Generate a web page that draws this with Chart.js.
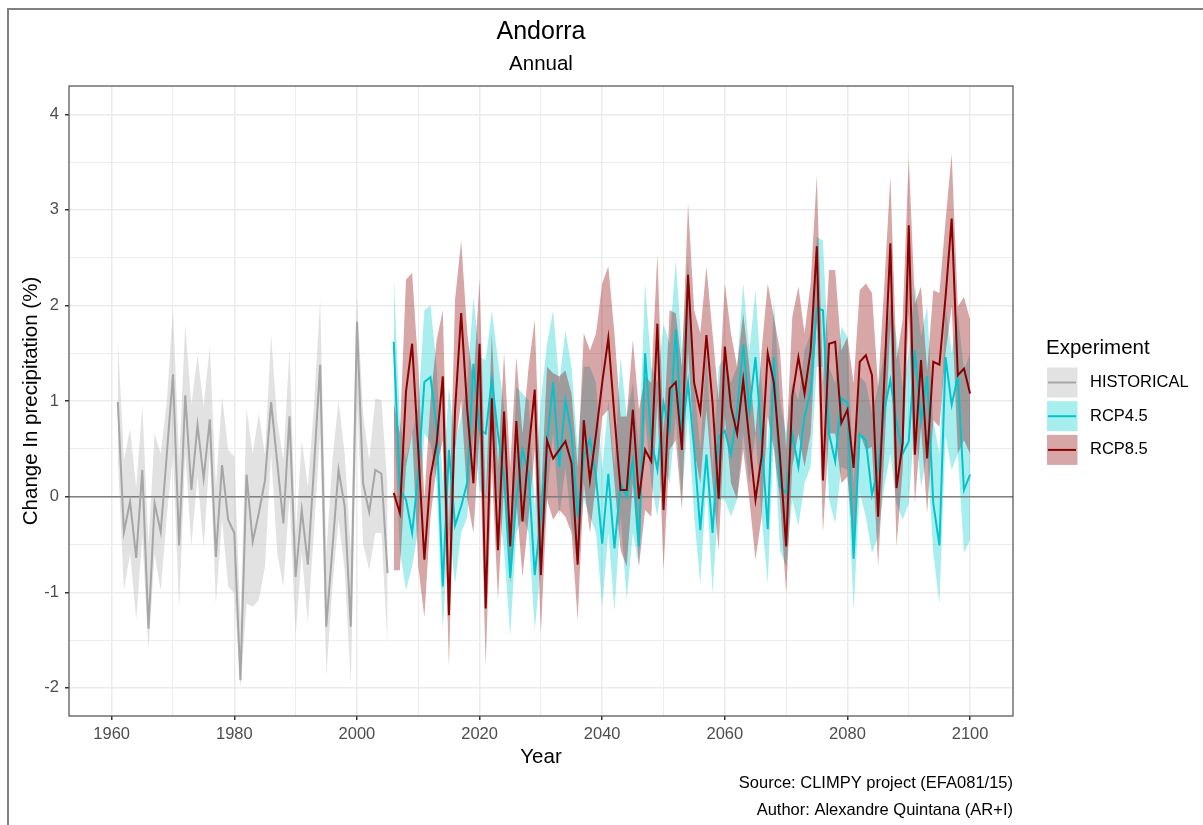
<!DOCTYPE html>
<html>
<head>
<meta charset="utf-8">
<title>Andorra - Annual</title>
<script src="https://cdn.jsdelivr.net/npm/chart.js@4/dist/chart.umd.min.js"></script>
<style>
  html, body { margin: 0; padding: 0; background: #fff; }
  #wrap { position: absolute; left: 0; top: 0; width: 1203px; height: 825px; }
</style>
</head>
<body>
<div id="wrap"><canvas id="precipChart" width="1203" height="825"></canvas></div>
<script>
// --- data ---
const histStart = 1961;
const projStart = 2006;

const histMean = [0.99, -0.37, -0.05, -0.64, 0.28, -1.38, -0.07, -0.37, 0.45, 1.28,
    -0.51, 1.06, 0.07, 0.75, 0.19, 0.81, -0.63, 0.33, -0.24, -0.38,
    -1.92, 0.23, -0.47, -0.17, 0.17, 0.99, 0.36, -0.28, 0.84, -0.84,
    -0.14, -0.71, 0.31, 1.38, -1.36, -0.54, 0.28, -0.1, -1.36, 1.83,
    0.14, -0.16, 0.28, 0.24, -0.80];
const histUpper = [1.66, 0.38, 0.71, 0.10, 0.96, -0.5, 0.66, 0.45, 1.0, 1.97,
    0.38, 1.80, 0.96, 1.48, 0.94, 1.57, 0.10, 1.05, 0.49, 0.42,
    -1.3, 0.92, 0.45, 0.87, 0.44, 1.69, 0.80, 0.38, 1.55, -0.42,
    0.59, 0.10, 0.96, 2.06, -0.59, 0.38, 1.01, 0.45, -0.56, 2.11,
    0.87, 0.38, 1.03, 1.01, 0.10];
const histLower = [0.4, -0.98, -0.59, -1.29, -0.42, -1.6, -0.6, -0.98, -0.2, 0.45,
    -1.17, 0.45, -0.52, 0.21, -0.54, 0.45, -1.12, -0.24, -0.94, -1.01,
    -2.0, -1.12, -1.15, -1.08, -0.73, 0.45, -0.59, -0.94, 0.0, -1.46,
    -0.59, -1.32, -0.35, 0.66, -1.88, -0.94, -0.24, -0.77, -1.95, 1.05,
    -0.49, -0.77, -0.38, -0.38, -1.57];

const rcp45Mean = [1.62, 0.07, -0.03, -0.38, 0.24, 1.20, 1.25, 0.73, -0.94, 0.49,
    -0.30, -0.10, 0.15, 1.39, 0.70, 0.66, 1.22, 0.66, 0.2, -0.85,
    -0.03, 0.49, 0.24, -0.82, -0.2, 0.56, 1.20, 0.31, 1.01, 0.66,
    -0.21, 0.42, 0.6, 0.2, -0.49, 0.24, -0.54, 0.14, 0.0, 0.38,
    -0.52, 1.50, 0.6, 0.28, 0.98, 0.7, 1.75, 0.63, 1.19, 0.5,
    -0.35, 0.44, -0.38, 0.63, 0.69, 0.44, 0.9, 1.59, 0.9, 1.46,
    0.6, -0.34, 1.46, 0.1, 0.04, 0.66, 0.31, 0.84, 1.1, 1.97,
    1.95, 0.66, 0.37, 1.03, 0.98, -0.65, 0.65, 0.59, 0.02, 0.3,
    0.9, 1.22, 0.78, 0.45, 0.58, 1.53, 0.8, 1.26, -0.07, -0.51,
    1.46, 0.96, 1.26, 0.07, 0.23];
const rcp45Upper = [2.32, 0.80, 0.38, 0.66, 0.94, 1.95, 2.0, 1.36, 0.14, 1.15,
    0.56, 0.84, 1.19, 2.09, 1.46, 1.43, 1.95, 1.43, 0.94, -0.38,
    1.15, 1.08, 1.01, -0.10, 1.01, 1.60, 1.95, 1.19, 1.74, 1.36,
    0.49, 1.36, 1.36, 1.19, 0.28, 1.01, 0.31, 1.46, 0.84, 1.19,
    0.49, 2.23, 1.36, 1.19, 1.81, 1.60, 2.48, 1.53, 2.51, 1.19,
    0.49, 1.53, 0.31, 1.36, 1.46, 1.19, 1.36, 2.23, 1.53, 2.16,
    1.19, 0.49, 2.06, 1.01, 0.66, 1.19, 1.01, 1.53, 1.71, 2.72,
    2.68, 1.36, 1.19, 1.78, 1.67, 0.14, 1.26, 1.19, 0.87, 1.15,
    1.50, 2.02, 1.67, 1.15, 1.50, 2.23, 1.67, 1.99, 0.80, 0.45,
    1.99, 1.50, 1.92, 1.32, 1.50];
const rcp45Lower = [0.8, -0.56, -0.98, -0.73, -0.35, 0.66, 0.56, 0.14, -1.39, -0.31,
    -0.91, -0.38, -0.21, 0.66, 0.07, -0.03, 0.66, -0.03, -0.56, -1.46,
    -0.38, -0.21, -0.38, -1.39, -0.73, -0.03, 0.66, -0.21, 0.31, -0.31,
    -0.73, -0.03, -0.21, -0.38, -1.15, -0.38, -1.19, -0.21, -1.08, -0.38,
    -0.73, 0.84, 0.14, -0.21, 0.31, 0.14, 0.84, -0.03, 0.84, -0.21,
    -0.91, 0.14, -1.01, -0.03, -0.03, -0.21, -0.03, 0.66, 0.14, 0.66,
    -0.21, -0.91, 0.66, -0.56, -0.73, -0.03, -0.31, 0.14, 0.31, 1.36,
    1.36, -0.03, -0.28, 0.31, 0.28, -1.19, 0.04, -0.21, -0.59, -0.42,
    0.10, 0.45, -0.07, -0.24, -0.07, 0.80, 0.10, 0.45, -0.59, -1.12,
    0.63, 0.28, 0.45, -0.59, -0.45];

const rcp85Mean = [0.04, -0.17, 1.1, 1.60, 0.49, -0.66, 0.21, 0.56, 1.26, -1.24,
    0.9, 1.92, 0.9, 0.14, 1.60, -1.17, 1.03, -0.56, 0.89, -0.52,
    0.79, -0.26, 0.49, 1.12, -0.82, 0.59, 0.40, 0.49, 0.58, 0.35,
    -0.71, 0.80, 0.17, 0.66, 1.19, 1.66, 0.84, 0.07, 0.07, 0.91,
    -0.02, 0.49, 0.37, 1.81, -0.14, 1.13, 1.20, 0.49, 2.32, 1.19,
    0.89, 1.69, 0.98, -0.02, 1.57, 0.94, 0.66, 1.22, 0.59, -0.03,
    0.42, 1.50, 1.19, 0.42, -0.52, 1.05, 1.46, 1.08, 1.53, 2.62,
    0.17, 1.60, 1.62, 0.77, 0.91, 0.30, 1.41, 1.48, 1.27, -0.21,
    1.22, 2.65, 0.09, 0.56, 2.84, 0.44, 1.43, 0.40, 1.41, 1.38,
    2.09, 2.91, 1.27, 1.34, 1.08];
const rcp85Upper = [0.98, 0.66, 2.27, 2.34, 1.36, -0.03, 1.01, 1.64, 1.95, -0.38,
    2.06, 2.68, 1.71, 1.19, 2.28, -0.03, 1.71, 0.31, 1.50, 0.31,
    1.46, 0.66, 1.36, 1.85, -0.03, 1.36, 1.29, 1.26, 1.32, 1.08,
    0.31, 1.71, 1.53, 1.71, 2.23, 2.41, 1.71, 0.84, 0.84, 1.64,
    0.91, 1.26, 1.19, 2.54, 0.66, 1.95, 1.92, 1.36, 3.07, 1.95,
    1.71, 2.41, 1.71, 1.01, 2.23, 1.71, 1.36, 1.92, 1.36, 0.66,
    1.53, 2.23, 1.88, 1.53, 0.49, 1.88, 2.20, 1.71, 2.23, 3.36,
    1.19, 2.37, 2.37, 1.53, 1.67, 1.19, 2.16, 2.23, 2.13, 1.15,
    2.20, 3.35, 1.43, 1.85, 3.55, 2.02, 2.20, 1.32, 2.16, 2.13,
    2.89, 3.59, 1.99, 2.09, 1.85];
const rcp85Lower = [-0.77, -0.77, 0.31, 0.66, -0.73, -1.26, -0.21, 0.31, 0.59, -1.78,
    0.49, 1.01, -0.03, -0.38, 0.66, -1.78, 0.31, -1.08, 0.14, -0.91,
    -0.03, -0.84, -0.21, 0.49, -1.43, -0.03, -0.24, -0.14, -0.21, -0.38,
    -1.29, 0.14, -0.38, 0.14, 0.84, 0.91, 0.14, -0.56, -0.73, 0.14,
    -0.73, -0.14, -0.21, 0.98, -0.77, 0.49, 0.59, -0.14, 1.53, 0.49,
    0.14, 0.91, 0.14, -0.56, 0.84, 0.14, -0.03, 0.49, -0.03, -0.66,
    -0.21, 0.84, 0.49, -0.03, -1.01, 0.31, 0.66, 0.31, 0.66, 1.88,
    -0.38, 0.66, 0.66, 0.14, 0.21, -0.56, 0.66, 0.49, 0.52, -0.73,
    0.45, 1.78, -0.52, 0.28, 1.92, -0.07, 0.73, -0.17, 0.80, 0.73,
    1.50, 1.99, 0.45, 0.59, 0.45];

const legendLabels = ["HISTORICAL", "RCP4.5", "RCP8.5"];
const lineColors = ["#a6a6a6", "#00c5cd", "#8b0000"];
const ribbonColors = ["rgba(190,190,190,0.45)", "rgba(0,206,209,0.34)", "rgba(139,0,0,0.35)"];

const FONT = "'Liberation Sans', Arial, sans-serif";

function toPoints(start, values) {
    return values.map((v, i) => ({ x: start + i, y: v }));
}

function lineSet(label, start, values, color, order) {
    return {
        label: label,
        data: toPoints(start, values),
        borderColor: color,
        backgroundColor: color,
        borderWidth: 2,
        pointRadius: 0,
        fill: false,
        tension: 0,
        order: order,
    };
}

function ribbonSet(label, start, values, color, order, fill) {
    return {
        label: label,
        data: toPoints(start, values),
        borderColor: "rgba(0,0,0,0)",
        backgroundColor: color,
        borderWidth: 0,
        pointRadius: 0,
        fill: fill,
        tension: 0,
        order: order,
    };
}

// lowest order is drawn on top
const datasets = [
    lineSet("RCP8.5", projStart, rcp85Mean, lineColors[2], 0),
    lineSet("RCP4.5", projStart, rcp45Mean, lineColors[1], 1),
    lineSet("HISTORICAL", histStart, histMean, lineColors[0], 2),
    ribbonSet("rcp85 hi", projStart, rcp85Upper, ribbonColors[2], 3, "+1"),
    ribbonSet("rcp85 lo", projStart, rcp85Lower, ribbonColors[2], 3, false),
    ribbonSet("rcp45 hi", projStart, rcp45Upper, ribbonColors[1], 4, "+1"),
    ribbonSet("rcp45 lo", projStart, rcp45Lower, ribbonColors[1], 4, false),
    ribbonSet("hist hi", histStart, histUpper, ribbonColors[0], 5, "+1"),
    ribbonSet("hist lo", histStart, histLower, ribbonColors[0], 5, false),
];

// zero line goes above the ribbons but under the lines
const zeroLinePlugin = {
    id: "zeroLine",
    afterDatasetDraw(chart, args) {
        if (args.index !== 3) return;
        const ctx = chart.ctx;
        const area = chart.chartArea;
        const y0 = chart.scales.y.getPixelForValue(0);
        ctx.save();
        ctx.strokeStyle = "#7f7f7f";
        ctx.lineWidth = 1.6;
        ctx.beginPath();
        ctx.moveTo(area.left, y0);
        ctx.lineTo(area.right, y0);
        ctx.stroke();
        ctx.restore();
    },
};

// titles, panel border, legend, caption
const decorPlugin = {
    id: "decor",
    afterDraw(chart) {
        const ctx = chart.ctx;
        const area = chart.chartArea;
        const midX = (area.left + area.right) / 2;
        ctx.save();

        // outer frame
        ctx.strokeStyle = "#808080";
        ctx.lineWidth = 2;
        ctx.beginPath();
        ctx.moveTo(8, 830);
        ctx.lineTo(8, 9);
        ctx.lineTo(1210, 9);
        ctx.stroke();

        // panel border
        ctx.strokeStyle = "#4d4d4d";
        ctx.lineWidth = 1.2;
        ctx.strokeRect(area.left, area.top, area.right - area.left, area.bottom - area.top);

        ctx.fillStyle = "#000";
        ctx.textAlign = "center";
        ctx.textBaseline = "middle";
        ctx.font = "25px " + FONT;
        ctx.fillText("Andorra", midX, 32);
        ctx.font = "20.5px " + FONT;
        ctx.fillText("Annual", midX, 64);

        // axis titles
        ctx.font = "20.5px " + FONT;
        ctx.fillText("Year", midX, 757);
        ctx.save();
        ctx.translate(31, (area.top + area.bottom) / 2);
        ctx.rotate(-Math.PI / 2);
        ctx.fillText("Change In precipitation (%)", 0, 0);
        ctx.restore();

        // caption
        ctx.textAlign = "right";
        ctx.font = "16.5px " + FONT;
        ctx.fillText("Source: CLIMPY project (EFA081/15)", area.right, 783);
        ctx.fillText("Author: Alexandre Quintana (AR+I)", area.right, 810);

        // legend
        ctx.textAlign = "left";
        ctx.font = "20.5px " + FONT;
        ctx.fillText("Experiment", 1046, 348);
        ctx.font = "16.5px " + FONT;
        legendLabels.forEach((label, i) => {
            const top = 367.5 + i * 33.7;
            ctx.fillStyle = "#fff";
            ctx.fillRect(1047, top, 30.5, 30);
            ctx.fillStyle = ribbonColors[i];
            ctx.fillRect(1047, top, 30.5, 30);
            ctx.strokeStyle = lineColors[i];
            ctx.lineWidth = 2;
            ctx.beginPath();
            ctx.moveTo(1048, top + 15);
            ctx.lineTo(1076, top + 15);
            ctx.stroke();
            ctx.fillStyle = "#000";
            ctx.fillText(label, 1090, top + 15);
        });

        ctx.restore();
    },
};

const canvas = document.getElementById("precipChart");
new Chart(canvas.getContext("2d"), {
    type: "line",
    data: { datasets: datasets },
    options: {
        responsive: false,
        animation: false,
        events: [],
        layout: { padding: { left: 0, top: 86, right: 190, bottom: 0 } },
        plugins: {
            legend: { display: false },
            tooltip: { enabled: false },
            title: { display: false },
        },
        scales: {
            x: {
                type: "linear",
                min: 1953.04,
                max: 2107.0,
                afterFit: (scale) => { scale.height = 109; },
                border: { display: false },
                grid: {
                    color: "#ebebeb",
                    lineWidth: (c) => (c.tick && c.tick.value % 20 === 0 ? 1.5 : 0.9),
                    tickLength: 4,
                    tickColor: (c) => (c.tick && c.tick.value % 20 === 0 ? "#333" : "rgba(0,0,0,0)"),
                },
                ticks: {
                    stepSize: 10,
                    includeBounds: false,
                    autoSkip: false,
                    maxRotation: 0,
                    padding: 5,
                    color: "#4d4d4d",
                    font: { family: FONT, size: 16.5 },
                    callback: (v) => (v % 20 === 0 ? String(v) : ""),
                },
            },
            y: {
                type: "linear",
                min: -2.294,
                max: 4.296,
                afterFit: (scale) => { scale.width = 69; },
                border: { display: false },
                grid: {
                    color: "#ebebeb",
                    lineWidth: (c) => (c.tick && Number.isInteger(c.tick.value) ? 1.5 : 0.9),
                    tickLength: 4,
                    tickColor: (c) => (c.tick && Number.isInteger(c.tick.value) ? "#333" : "rgba(0,0,0,0)"),
                },
                ticks: {
                    stepSize: 0.5,
                    includeBounds: false,
                    autoSkip: false,
                    padding: 6,
                    color: "#4d4d4d",
                    font: { family: FONT, size: 16.5 },
                    callback: (v) => (Number.isInteger(v) ? String(v) : ""),
                },
            },
        },
    },
    plugins: [zeroLinePlugin, decorPlugin],
});
</script>
</body>
</html>
